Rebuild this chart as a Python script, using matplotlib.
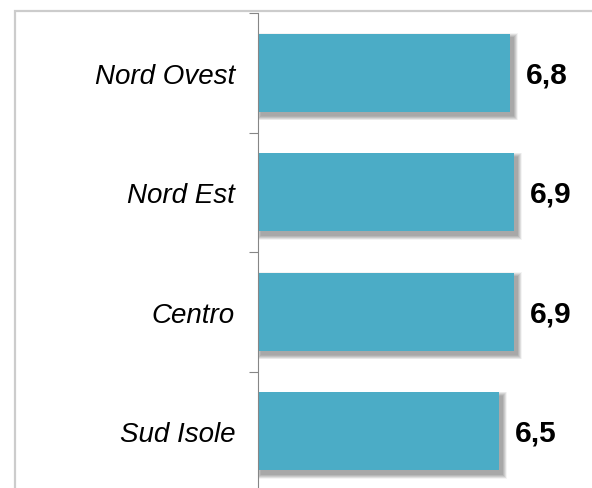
import matplotlib
matplotlib.use("Agg")
import matplotlib.pyplot as plt
from matplotlib.patches import Rectangle
from matplotlib.ticker import FixedLocator

areas = ["Nord Ovest", "Nord Est", "Centro", "Sud Isole"]
values = [6.8, 6.9, 6.9, 6.5]
value_labels = ["6,8", "6,9", "6,9", "6,5"]

W, H = 592, 489
fig = plt.figure(figsize=(W / 100, H / 100), dpi=100)
plt.rcParams["font.family"] = ["Liberation Sans", "DejaVu Sans"]

# outer frame of the chart area
fig.patches.append(Rectangle((15 / W, -0.1), 1.2, 1 - 11.5 / H + 0.1,
                             transform=fig.transFigure, fill=False,
                             edgecolor="#cccccc", linewidth=1.6, zorder=0))

ax = fig.add_axes([258 / W, -3 / H, (W - 258) / W, 478 / H])
ax.set_xlim(0, 9.0)
ax.set_ylim(3.5, -0.5)

bar_h = 0.65
color = "#4bacc6"

# soft drop shadow: a stack of faint rectangles that grow step by step
px_x = 9.0 / (W - 258)
px_y = 4.0 / 478
for v, y in zip(values, range(len(values))):
    for k in range(9):
        grow = 9 - k
        ax.add_patch(Rectangle((3 * px_x - grow * px_x / 2, y - bar_h / 2 + 4 * px_y - grow * px_y / 2),
                               v + grow * px_x, bar_h + grow * px_y,
                               facecolor="black", edgecolor="none", alpha=0.045, zorder=1))

ax.barh(range(len(areas)), values, height=bar_h, color=color, zorder=2)

for y, (v, lab) in enumerate(zip(values, value_labels)):
    ax.annotate(lab, (v, y), xytext=(11.5, -1), textcoords="offset points",
                ha="left", va="center", fontsize=21.5, fontweight="bold", color="black")

ax.set_yticks(range(len(areas)))
ax.set_yticklabels(areas, fontsize=20, fontstyle="italic")
ax.tick_params(axis="y", which="major", length=0, pad=16.5)
ax.yaxis.set_minor_locator(FixedLocator([-0.5, 0.5, 1.5, 2.5, 3.5]))
ax.tick_params(axis="y", which="minor", length=6.5, width=0.8, color="#868686", direction="out")
ax.set_xticks([])

for s in ["top", "right", "bottom"]:
    ax.spines[s].set_visible(False)
ax.spines["left"].set_color("#868686")
ax.spines["left"].set_linewidth(0.8)
ax.patch.set_alpha(0)

fig.savefig("out.png", dpi=100)
